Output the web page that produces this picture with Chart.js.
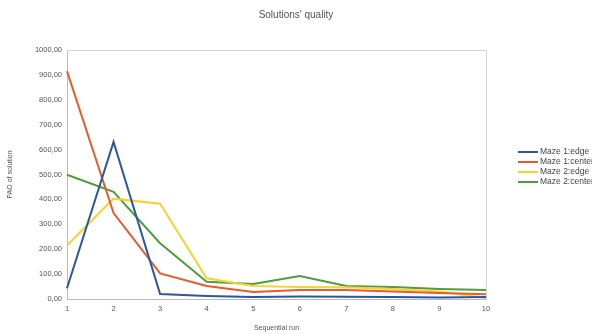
<!DOCTYPE html>
<html lang="en">
  <head>
    <meta charset="UTF-8" />
    <title>Solutions' quality</title>
    <script src="https://cdn.jsdelivr.net/npm/chart.js"></script>
    <style>
      body { margin: 0; background: #fff; }
    </style>
  </head>
  <body>
    <canvas id="qualityChart" width="592" height="334"></canvas>
    <script>
      const chartTitle = "Solutions' quality";
      const runs = ["1", "2", "3", "4", "5", "6", "7", "8", "9", "10"];
      const maze1Edge = [43, 631, 20, 12, 8, 10, 9, 8, 6, 8];
      const maze1Center = [915, 345, 103, 52, 28, 36, 36, 30, 24, 19];
      const maze2Edge = [215, 403, 383, 83, 52, 48, 47, 40, 30, 4];
      const maze2Center = [499, 430, 224, 69, 60, 92, 52, 48, 40, 36];

      const font = "Liberation Sans";
      const textColor = "#555";

      // title + legend drawn by hand so they sit where the original has them
      const sideLegend = {
        id: "sideLegend",
        afterDraw(c) {
          const g = c.ctx;
          g.save();
          g.font = "10px '" + font + "'";
          g.fillStyle = textColor;
          g.textAlign = "center";
          g.textBaseline = "middle";
          g.fillText(chartTitle, c.width / 2, 15);

          g.font = "8.5px '" + font + "'";
          g.textAlign = "left";
          c.data.datasets.forEach((ds, i) => {
            const y = 152 + i * 10;
            g.strokeStyle = ds.borderColor;
            g.lineWidth = 2;
            g.beginPath();
            g.moveTo(518, y);
            g.lineTo(538, y);
            g.stroke();
            g.fillStyle = "#444";
            g.fillText(ds.label, 540, y);
          });

          const a = c.chartArea;
          g.strokeStyle = "#d4d4d4";
          g.lineWidth = 1;
          g.beginPath();
          g.moveTo(a.left, a.top + 0.5);
          g.lineTo(a.right + 0.5, a.top + 0.5);
          g.lineTo(a.right + 0.5, a.bottom);
          g.stroke();
          g.restore();
        },
      };

      const ctx = document.getElementById("qualityChart").getContext("2d");
      const chart = new Chart(ctx, {
        type: "line",
        data: {
          labels: runs,
          datasets: [
            { label: "Maze 1:edge", data: maze1Edge, borderColor: "#2b57a0" },
            { label: "Maze 1:center", data: maze1Center, borderColor: "#ec5a2c" },
            { label: "Maze 2:edge", data: maze2Edge, borderColor: "#f7d235" },
            { label: "Maze 2:center", data: maze2Center, borderColor: "#4e9e3c" },
          ].map((d) => ({ ...d, borderWidth: 2, pointRadius: 0, tension: 0, fill: false })),
        },
        options: {
          responsive: false,
          animation: false,
          layout: { padding: { top: 50, right: 106, left: 0, bottom: 0 } },
          plugins: {
            title: { display: false },
            legend: { display: false },
            tooltip: { enabled: false },
          },
          scales: {
            x: {
              offset: false,
              grid: { display: false, drawTicks: true, tickLength: 3 },
              border: { color: "#bbb" },
              ticks: { color: textColor, font: { family: font, size: 7.5 }, maxRotation: 0, padding: 2 },
              title: {
                display: true,
                text: "Sequential run",
                color: textColor,
                font: { family: font, size: 7 },
                padding: { top: 4, bottom: 2 },
              },
              afterFit: (s) => { s.height = 35; },
            },
            y: {
              min: 0,
              max: 1000,
              grid: { display: false, drawTicks: true, tickLength: 3 },
              border: { color: "#bbb" },
              ticks: {
                stepSize: 100,
                color: textColor,
                font: { family: font, size: 7.5 },
                padding: 2,
                callback: (v) => v.toFixed(2).replace(".", ","),
              },
              title: {
                display: true,
                text: "PAO of solution",
                color: textColor,
                font: { family: font, size: 7 },
                padding: { top: 6, bottom: 0 },
              },
              afterFit: (s) => { s.width = 67; },
            },
          },
        },
        plugins: [sideLegend],
      });
    </script>
  </body>
</html>
